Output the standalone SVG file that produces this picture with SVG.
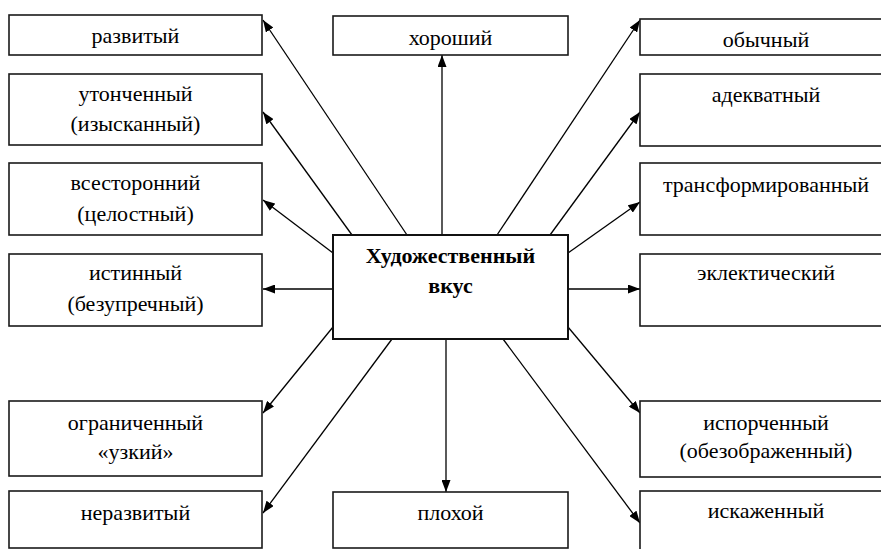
<svg xmlns="http://www.w3.org/2000/svg" width="881" height="549" viewBox="0 0 881 549">
<defs>
<marker id="ah" viewBox="0 0 12 9" refX="12" refY="4.5" markerWidth="12" markerHeight="9" markerUnits="userSpaceOnUse" orient="auto">
<path d="M0,0 L12,4.5 L0,9 Z" fill="#000"/>
</marker>
<style>
.box{fill:#fff;stroke:#1a1a1a;stroke-width:1.6}
.main{fill:#fff;stroke:#111;stroke-width:2}
text{font-family:"Liberation Serif","Times New Roman",serif;font-size:22px;fill:#000;text-anchor:middle}
.b{font-weight:bold}
.c{stroke:#000;stroke-width:1.3;fill:none;marker-end:url(#ah)}
</style>
</defs>
<rect width="881" height="549" fill="#fff"/>
<g id="connectors">
<line class="c" x1="407" y1="235" x2="263" y2="20"/>
<line class="c" x1="352" y1="235" x2="263" y2="112"/>
<line class="c" x1="333" y1="253" x2="263" y2="200"/>
<line class="c" x1="333" y1="289" x2="263" y2="289"/>
<line class="c" x1="333" y1="327" x2="263" y2="413"/>
<line class="c" x1="392" y1="339" x2="263" y2="513"/>
<line class="c" x1="442" y1="235" x2="442" y2="55"/>
<line class="c" x1="446" y1="339" x2="446" y2="492"/>
<line class="c" x1="497" y1="235" x2="640" y2="20"/>
<line class="c" x1="550" y1="235" x2="640" y2="112"/>
<line class="c" x1="568" y1="253" x2="640" y2="202"/>
<line class="c" x1="568" y1="289" x2="640" y2="289"/>
<line class="c" x1="568" y1="327" x2="640" y2="413"/>
<line class="c" x1="503" y1="339" x2="640" y2="523"/>
</g>
<g id="center"><rect class="main" x="333" y="235" width="235" height="104"/><text class="b" x="450.5" y="263">Художественный</text><text class="b" x="450.5" y="293">вкус</text></g>
<g id="razvityi"><rect class="box" x="9" y="15" width="253" height="40"/><text x="135.5" y="43">развитый</text></g>
<g id="utonchennyi"><rect class="box" x="9" y="74" width="253" height="71"/><text x="135.5" y="101">утонченный</text><text x="135.5" y="131">(изысканный)</text></g>
<g id="vsestoronnii"><rect class="box" x="9" y="163" width="253" height="72"/><text x="135.5" y="190">всесторонний</text><text x="135.5" y="221">(целостный)</text></g>
<g id="istinnyi"><rect class="box" x="9" y="254" width="253" height="72"/><text x="135.5" y="280">истинный</text><text x="135.5" y="311">(безупречный)</text></g>
<g id="ogranichennyi"><rect class="box" x="9" y="401" width="253" height="75"/><text x="135.5" y="430">ограниченный</text><text x="135.5" y="459">«узкий»</text></g>
<g id="nerazvityi"><rect class="box" x="9" y="491" width="253" height="57"/><text x="135.5" y="520">неразвитый</text></g>
<g id="khoroshii"><rect class="box" x="333" y="16" width="235" height="39"/><text x="450.5" y="45">хороший</text></g>
<g id="plokhoi"><rect class="box" x="333" y="492" width="235" height="56"/><text x="450.5" y="520">плохой</text></g>
<g id="obychnyi"><rect class="box" x="640" y="19" width="253" height="36"/><text x="766" y="47">обычный</text></g>
<g id="adekvatnyi"><rect class="box" x="640" y="74" width="253" height="72"/><text x="766" y="102">адекватный</text></g>
<g id="transformirovannyi"><rect class="box" x="640" y="163" width="253" height="72"/><text x="766" y="192">трансформированный</text></g>
<g id="eklekticheskii"><rect class="box" x="640" y="254" width="253" height="72"/><text x="766" y="280">эклектический</text></g>
<g id="isporchennyi"><rect class="box" x="640" y="401" width="253" height="76"/><text x="766" y="430">испорченный</text><text x="766" y="458">(обезображенный)</text></g>
<g id="iskazhennyi"><rect class="box" x="640" y="491" width="253" height="70"/><text x="766" y="518">искаженный</text></g>
</svg>
